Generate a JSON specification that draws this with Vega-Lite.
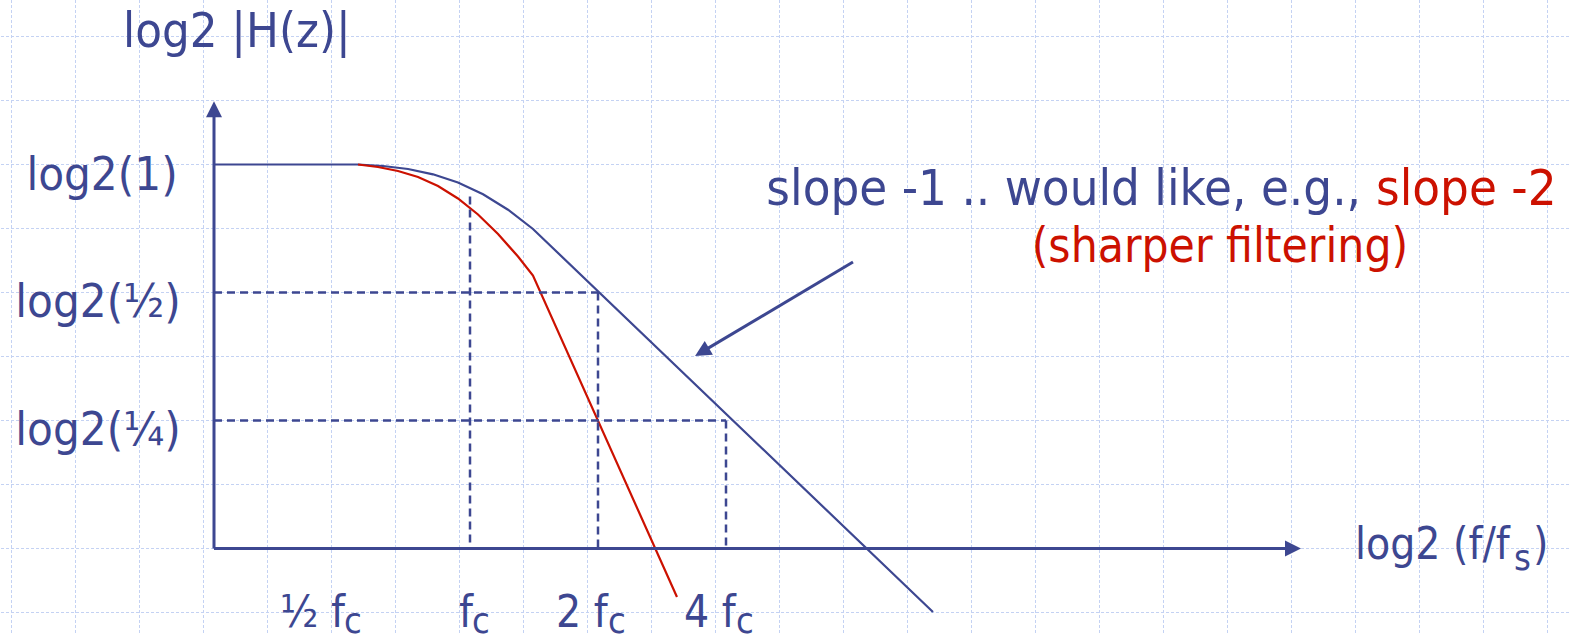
{
  "$schema": "https://vega.github.io/schema/vega-lite/v6.json",
  "width": 1569,
  "height": 634,
  "autosize": {"type": "none"},
  "padding": 0,
  "background": "white",
  "config": {"view": {"stroke": null}},
  "datasets": {
    "gridx": [
      {"v": -3.582}, {"v": -3.082}, {"v": -2.582}, {"v": -2.082}, {"v": -1.582}, {"v": -1.082}, {"v": -0.582}, {"v": -0.082}, {"v": 0.418}, {"v": 0.918}, {"v": 1.418}, {"v": 1.918}, {"v": 2.418}, {"v": 2.918}, {"v": 3.418}, {"v": 3.918}, {"v": 4.418}, {"v": 4.918}, {"v": 5.418}, {"v": 5.918}, {"v": 6.418}, {"v": 6.918}, {"v": 7.418}, {"v": 7.918}, {"v": 8.418}
    ],
    "gridy": [
      {"v": 1}, {"v": 0.5}, {"v": 0}, {"v": -0.5}, {"v": -1}, {"v": -1.5}, {"v": -2}, {"v": -2.5}, {"v": -3}, {"v": -3.5}
    ],
    "blue": [
      {"x": -2.0, "y": 0},
      {"x": -0.875, "y": 0},
      {"x": -0.680, "y": -0.0117},
      {"x": -0.484, "y": -0.0352},
      {"x": -0.289, "y": -0.0766},
      {"x": -0.094, "y": -0.1406},
      {"x": 0.102, "y": -0.2328},
      {"x": 0.297, "y": -0.3531},
      {"x": 0.492, "y": -0.5039},
      {"x": 3.617, "y": -3.496}
    ],
    "red": [
      {"x": -0.875, "y": 0},
      {"x": -0.719, "y": -0.0195},
      {"x": -0.5625, "y": -0.0508},
      {"x": -0.406, "y": -0.0977},
      {"x": -0.25, "y": -0.168},
      {"x": -0.094, "y": -0.2656},
      {"x": 0.0625, "y": -0.3906},
      {"x": 0.219, "y": -0.543},
      {"x": 0.375, "y": -0.719},
      {"x": 0.492, "y": -0.867},
      {"x": 1.617, "y": -3.379}
    ],
    "dashed": [
      {"x": 0, "y": -0.25, "x2": 0, "y2": -3},
      {"x": -2, "y": -1, "x2": 1, "y2": -1},
      {"x": 1, "y": -1, "x2": 1, "y2": -3},
      {"x": -2, "y": -2, "x2": 2, "y2": -2},
      {"x": 2, "y": -2, "x2": 2, "y2": -3}
    ],
    "axes": [
      {"x": -2, "y": -3, "x2": -2, "y2": 0.38},
      {"x": -2, "y": -3, "x2": 6.38, "y2": -3}
    ],
    "pointer": [
      {"x": 2.992, "y": -0.762, "x2": 1.812, "y2": -1.464}
    ]
  },
  "layer": [
    {
      "data": {"name": "gridx"},
      "mark": {"type": "rule", "color": "#c4d2f3", "strokeWidth": 1, "strokeDash": [3, 2]},
      "encoding": {
        "x": {"field": "v", "type": "quantitative", "scale": {"domain": [-3.671875, 8.5859375], "nice": false, "zero": false}, "axis": null}
      }
    },
    {
      "data": {"name": "gridy"},
      "mark": {"type": "rule", "color": "#c4d2f3", "strokeWidth": 1, "strokeDash": [3, 2]},
      "encoding": {
        "y": {"field": "v", "type": "quantitative", "scale": {"domain": [-3.66796875, 1.28515625], "nice": false, "zero": false}, "axis": null}
      }
    },
    {
      "data": {"name": "blue"},
      "mark": {"type": "line", "color": "#3d4791", "strokeWidth": 2.2},
      "encoding": {
        "x": {"field": "x", "type": "quantitative", "scale": {"domain": [-3.671875, 8.5859375], "nice": false, "zero": false}, "axis": null},
        "y": {"field": "y", "type": "quantitative", "scale": {"domain": [-3.66796875, 1.28515625], "nice": false, "zero": false}, "axis": null}
      }
    },
    {
      "data": {"name": "red"},
      "mark": {"type": "line", "color": "#cc1100", "strokeWidth": 2.2},
      "encoding": {
        "x": {"field": "x", "type": "quantitative", "scale": {"domain": [-3.671875, 8.5859375], "nice": false, "zero": false}, "axis": null},
        "y": {"field": "y", "type": "quantitative", "scale": {"domain": [-3.66796875, 1.28515625], "nice": false, "zero": false}, "axis": null}
      }
    },
    {
      "data": {"name": "dashed"},
      "mark": {"type": "rule", "color": "#3d4791", "strokeWidth": 2.5, "strokeDash": [8, 5]},
      "encoding": {
        "x": {"field": "x", "type": "quantitative", "scale": {"domain": [-3.671875, 8.5859375], "nice": false, "zero": false}, "axis": null},
        "y": {"field": "y", "type": "quantitative", "scale": {"domain": [-3.66796875, 1.28515625], "nice": false, "zero": false}, "axis": null},
        "x2": {"field": "x2"},
        "y2": {"field": "y2"}
      }
    },
    {
      "data": {"name": "axes"},
      "mark": {"type": "rule", "color": "#3d4791", "strokeWidth": 3},
      "encoding": {
        "x": {"field": "x", "type": "quantitative", "scale": {"domain": [-3.671875, 8.5859375], "nice": false, "zero": false}, "axis": null},
        "y": {"field": "y", "type": "quantitative", "scale": {"domain": [-3.66796875, 1.28515625], "nice": false, "zero": false}, "axis": null},
        "x2": {"field": "x2"},
        "y2": {"field": "y2"}
      }
    },
    {
      "data": {"name": "pointer"},
      "mark": {"type": "rule", "color": "#3d4791", "strokeWidth": 3},
      "encoding": {
        "x": {"field": "x", "type": "quantitative", "scale": {"domain": [-3.671875, 8.5859375], "nice": false, "zero": false}, "axis": null},
        "y": {"field": "y", "type": "quantitative", "scale": {"domain": [-3.66796875, 1.28515625], "nice": false, "zero": false}, "axis": null},
        "x2": {"field": "x2"},
        "y2": {"field": "y2"}
      }
    },
    {
      "data": {"values": [{"x": -2, "y": 0.432}]},
      "mark": {"type": "point", "shape": "M0,-1L1,1L-1,1Z", "size": 256, "filled": true, "color": "#3d4791", "opacity": 1, "angle": 0},
      "encoding": {
        "x": {"field": "x", "type": "quantitative", "scale": {"domain": [-3.671875, 8.5859375], "nice": false, "zero": false}, "axis": null},
        "y": {"field": "y", "type": "quantitative", "scale": {"domain": [-3.66796875, 1.28515625], "nice": false, "zero": false}, "axis": null}
      }
    },
    {
      "data": {"values": [{"x": 6.4297, "y": -3}]},
      "mark": {"type": "point", "shape": "M0,-1L1,1L-1,1Z", "size": 256, "filled": true, "color": "#3d4791", "opacity": 1, "angle": 90},
      "encoding": {
        "x": {"field": "x", "type": "quantitative", "scale": {"domain": [-3.671875, 8.5859375], "nice": false, "zero": false}, "axis": null},
        "y": {"field": "y", "type": "quantitative", "scale": {"domain": [-3.66796875, 1.28515625], "nice": false, "zero": false}, "axis": null}
      }
    },
    {
      "data": {"values": [{"x": 1.812, "y": -1.464}]},
      "mark": {"type": "point", "shape": "M0,-1L1,1L-1,1Z", "size": 256, "filled": true, "color": "#3d4791", "opacity": 1, "angle": 239.3},
      "encoding": {
        "x": {"field": "x", "type": "quantitative", "scale": {"domain": [-3.671875, 8.5859375], "nice": false, "zero": false}, "axis": null},
        "y": {"field": "y", "type": "quantitative", "scale": {"domain": [-3.66796875, 1.28515625], "nice": false, "zero": false}, "axis": null}
      }
    },
    {
      "data": {"values": [
        {"label": "log2 |H(z)|", "x": -2.711, "y": 0.918}
      ]},
      "mark": {"type": "text", "align": "left", "baseline": "alphabetic", "font": "DejaVu Sans Condensed", "fontSize": 48.6, "color": "#3d4791"},
      "encoding": {
        "x": {"field": "x", "type": "quantitative", "scale": {"domain": [-3.671875, 8.5859375], "nice": false, "zero": false}, "axis": null},
        "y": {"field": "y", "type": "quantitative", "scale": {"domain": [-3.66796875, 1.28515625], "nice": false, "zero": false}, "axis": null},
        "text": {"field": "label"}
      }
    },
    {
      "data": {"values": [
        {"label": "½ f", "x": -1.484, "y": -3.613},
        {"label": "f", "x": -0.086, "y": -3.613},
        {"label": "2 f", "x": 0.672, "y": -3.613},
        {"label": "4 f", "x": 1.672, "y": -3.613}
      ]},
      "mark": {"type": "text", "align": "left", "baseline": "alphabetic", "font": "DejaVu Sans Condensed", "fontSize": 44, "color": "#3d4791"},
      "encoding": {
        "x": {"field": "x", "type": "quantitative", "scale": {"domain": [-3.671875, 8.5859375], "nice": false, "zero": false}, "axis": null},
        "y": {"field": "y", "type": "quantitative", "scale": {"domain": [-3.66796875, 1.28515625], "nice": false, "zero": false}, "axis": null},
        "text": {"field": "label"}
      }
    },
    {
      "data": {"values": [
        {"label": "log2 (f/f", "x": 6.914, "y": -3.082},
        {"label": ")", "x": 8.305, "y": -3.082}
      ]},
      "mark": {"type": "text", "align": "left", "baseline": "alphabetic", "font": "DejaVu Sans Condensed", "fontSize": 44, "color": "#3d4791"},
      "encoding": {
        "x": {"field": "x", "type": "quantitative", "scale": {"domain": [-3.671875, 8.5859375], "nice": false, "zero": false}, "axis": null},
        "y": {"field": "y", "type": "quantitative", "scale": {"domain": [-3.66796875, 1.28515625], "nice": false, "zero": false}, "axis": null},
        "text": {"field": "label"}
      }
    },
    {
      "data": {"values": [
        {"label": "c", "x": -0.984, "y": -3.66},
        {"label": "c", "x": 0.0156, "y": -3.66},
        {"label": "c", "x": 1.078, "y": -3.66},
        {"label": "c", "x": 2.078, "y": -3.66},
        {"label": "s", "x": 8.156, "y": -3.168}
      ]},
      "mark": {"type": "text", "align": "left", "baseline": "alphabetic", "font": "DejaVu Sans Condensed", "fontSize": 36, "color": "#3d4791"},
      "encoding": {
        "x": {"field": "x", "type": "quantitative", "scale": {"domain": [-3.671875, 8.5859375], "nice": false, "zero": false}, "axis": null},
        "y": {"field": "y", "type": "quantitative", "scale": {"domain": [-3.66796875, 1.28515625], "nice": false, "zero": false}, "axis": null},
        "text": {"field": "label"}
      }
    },
    {
      "data": {"values": [
        {"label": "log2(1)", "x": -2.875, "y": -0.199},
        {"label": "log2(½)", "x": -2.906, "y": -1.191},
        {"label": "log2(¼)", "x": -2.906, "y": -2.191}
      ]},
      "mark": {"type": "text", "align": "center", "baseline": "alphabetic", "font": "DejaVu Sans Condensed", "fontSize": 47, "color": "#3d4791"},
      "encoding": {
        "x": {"field": "x", "type": "quantitative", "scale": {"domain": [-3.671875, 8.5859375], "nice": false, "zero": false}, "axis": null},
        "y": {"field": "y", "type": "quantitative", "scale": {"domain": [-3.66796875, 1.28515625], "nice": false, "zero": false}, "axis": null},
        "text": {"field": "label"}
      }
    },
    {
      "data": {"values": [
        {"label": "slope -1 .. would like, e.g.,", "x": 6.961, "y": -0.316}
      ]},
      "mark": {"type": "text", "align": "right", "baseline": "alphabetic", "font": "DejaVu Sans Condensed", "fontSize": 50.5, "color": "#3d4791"},
      "encoding": {
        "x": {"field": "x", "type": "quantitative", "scale": {"domain": [-3.671875, 8.5859375], "nice": false, "zero": false}, "axis": null},
        "y": {"field": "y", "type": "quantitative", "scale": {"domain": [-3.66796875, 1.28515625], "nice": false, "zero": false}, "axis": null},
        "text": {"field": "label"}
      }
    },
    {
      "data": {"values": [
        {"label": "slope -2", "x": 7.078, "y": -0.316}
      ]},
      "mark": {"type": "text", "align": "left", "baseline": "alphabetic", "font": "DejaVu Sans Condensed", "fontSize": 50.5, "color": "#cc1100"},
      "encoding": {
        "x": {"field": "x", "type": "quantitative", "scale": {"domain": [-3.671875, 8.5859375], "nice": false, "zero": false}, "axis": null},
        "y": {"field": "y", "type": "quantitative", "scale": {"domain": [-3.66796875, 1.28515625], "nice": false, "zero": false}, "axis": null},
        "text": {"field": "label"}
      }
    },
    {
      "data": {"values": [
        {"label": "(sharper filtering)", "x": 5.859, "y": -0.762}
      ]},
      "mark": {"type": "text", "align": "center", "baseline": "alphabetic", "font": "DejaVu Sans Condensed", "fontSize": 47.5, "color": "#cc1100"},
      "encoding": {
        "x": {"field": "x", "type": "quantitative", "scale": {"domain": [-3.671875, 8.5859375], "nice": false, "zero": false}, "axis": null},
        "y": {"field": "y", "type": "quantitative", "scale": {"domain": [-3.66796875, 1.28515625], "nice": false, "zero": false}, "axis": null},
        "text": {"field": "label"}
      }
    }
  ]
}
